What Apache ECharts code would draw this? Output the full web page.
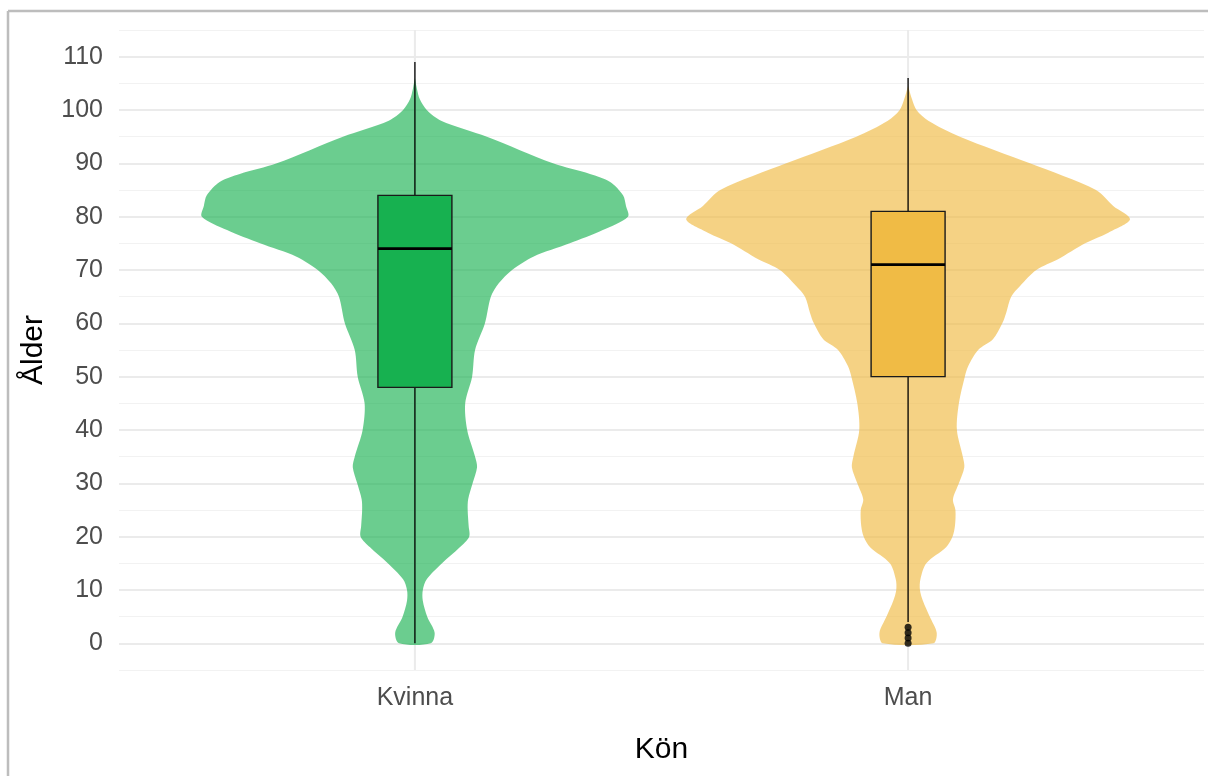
<!DOCTYPE html>
<html><head><meta charset="utf-8">
<script src="https://cdn.jsdelivr.net/npm/echarts@6/dist/echarts.min.js"></script>
<style>html,body{margin:0;padding:0;background:#fff}#c{width:1208px;height:776px}</style>
</head><body><div id="c"></div>
<script>
// ---- data ----
const categories = ['Kvinna', 'Man'];
const yTickLabels = [0, 10, 20, 30, 40, 50, 60, 70, 80, 90, 100, 110];

// violin half-widths (in category units) at given ages
const kvinnaAges   = [0, 2, 5, 8, 10, 12, 15, 18, 20, 22, 25, 27, 30, 33, 35, 40, 45, 50, 55, 60, 65, 67.5, 70, 72.5, 75, 77.5, 80, 82, 84, 86.5, 88, 90, 95, 98, 100, 102, 104, 106];
const kvinnaWidths = [0.032, 0.040, 0.025, 0.016, 0.016, 0.024, 0.055, 0.091, 0.110, 0.109, 0.107, 0.108, 0.117, 0.126, 0.122, 0.106, 0.102, 0.116, 0.122, 0.142, 0.154, 0.170, 0.197, 0.240, 0.314, 0.381, 0.432, 0.428, 0.422, 0.396, 0.355, 0.280, 0.146, 0.053, 0.024, 0.010, 0.004, 0];

const manAges   = [0, 2, 5, 8, 10, 12, 15, 18, 20, 22, 25, 27, 30, 33, 35, 40, 45, 50, 52, 55, 57, 60, 62, 65, 67, 70, 72, 75, 77, 79.5, 82, 85, 90, 95, 98, 100, 102, 104.5];
const manWidths = [0.051, 0.058, 0.044, 0.030, 0.024, 0.025, 0.037, 0.077, 0.090, 0.095, 0.096, 0.091, 0.103, 0.114, 0.111, 0.099, 0.103, 0.115, 0.122, 0.142, 0.172, 0.191, 0.199, 0.209, 0.227, 0.260, 0.304, 0.359, 0.406, 0.450, 0.416, 0.381, 0.247, 0.105, 0.041, 0.017, 0.008, 0];

// box stats: [lower whisker, Q1, median, Q3, upper whisker]
const kvinnaBox = [0, 48, 74, 84, 109];
const manBox    = [4, 50, 71, 81, 106];
const manOutliers = [0, 1, 2, 3];

// ---- style ----
const FONT = 'Liberation Sans, Arial, sans-serif';
const kvinnaColor = '#17B150', kvinnaViolin = 'rgba(23,177,80,0.64)';
const manColor = '#F0BB45', manViolin = 'rgba(240,187,69,0.66)';
const BOX_HALF = 0.075;

function violinSeries(ages, widths, catIdx, fill) {
  return {
    type: 'custom', z: 2, clip: false, silent: true,
    data: [[catIdx, ages[0]]],
    renderItem: function (params, api) {
      const pts = [];
      for (let i = 0; i < ages.length; i++) pts.push(api.coord([catIdx - widths[i], ages[i]]));
      for (let i = ages.length - 1; i >= 0; i--) pts.push(api.coord([catIdx + widths[i], ages[i]]));
      return { type: 'polygon', shape: { points: pts, smooth: 0.3 }, style: { fill: fill, stroke: null } };
    }
  };
}

function boxSeries(stats, catIdx, fill) {
  return {
    type: 'custom', z: 3, clip: false, silent: true,
    data: [[catIdx].concat(stats)],
    renderItem: function (params, api) {
      const c = catIdx;
      const lo = api.coord([c, stats[0]]), q1 = api.coord([c, stats[1]]), md = api.coord([c, stats[2]]),
            q3 = api.coord([c, stats[3]]), hi = api.coord([c, stats[4]]);
      const l = api.coord([c - BOX_HALF, stats[3]]), r = api.coord([c + BOX_HALF, stats[1]]);
      const ls = { stroke: '#000', lineWidth: 1.3 };
      return {
        type: 'group', children: [
          { type: 'line', shape: { x1: lo[0], y1: lo[1], x2: q1[0], y2: q1[1] }, style: ls },
          { type: 'line', shape: { x1: q3[0], y1: q3[1], x2: hi[0], y2: hi[1] }, style: ls },
          { type: 'rect', shape: { x: l[0], y: l[1], width: r[0] - l[0], height: r[1] - l[1] }, style: { fill: fill, stroke: '#1a1a1a', lineWidth: 1.4 } },
          { type: 'line', shape: { x1: l[0], y1: md[1], x2: r[0], y2: md[1] }, style: { stroke: '#000', lineWidth: 2.8 } }
        ]
      };
    }
  };
}

const chart = echarts.init(document.getElementById('c'), null, { renderer: 'canvas' });
chart.setOption({
  animation: false,
  backgroundColor: '#fff',
  textStyle: { fontFamily: FONT },
  grid: { left: 119, right: 4, top: 30, bottom: 106, containLabel: false },
  xAxis: {
    type: 'value', min: 0.4, max: 2.6, interval: 0.2,
    name: 'Kön', nameLocation: 'middle', nameGap: 65,
    nameTextStyle: { fontSize: 30, color: '#000', fontFamily: FONT },
    axisLine: { show: false }, axisTick: { show: false }, splitLine: { show: false },
    axisLabel: {
      margin: 16, fontSize: 25, color: '#4D4D4D', fontFamily: FONT,
      formatter: function (v) {
        const r = Math.round(v);
        return (Math.abs(v - r) < 1e-6 && r >= 1 && r <= categories.length) ? categories[r - 1] : '';
      }
    }
  },
  yAxis: [{
    type: 'value', min: -5, max: 115, interval: 5,
    name: 'Ålder', nameLocation: 'middle', nameGap: 70,
    nameTextStyle: { fontSize: 30, color: '#000', fontFamily: FONT, padding: [0, 0, 0, 0] },
    axisLine: { show: false }, axisTick: { show: false },
    splitLine: { show: true, lineStyle: { color: ['rgba(0,0,0,0)', '#EBEBEB'], width: 2 } },
    axisLabel: {
      margin: 16, fontSize: 25, color: '#4D4D4D', fontFamily: FONT,
      formatter: function (v) { return yTickLabels.indexOf(Math.round(v)) >= 0 && Math.abs(v - Math.round(v)) < 1e-6 ? String(Math.round(v)) : ''; }
    }
  }, {
    type: 'value', min: -5, max: 115, interval: 5, position: 'left',
    axisLine: { show: false }, axisTick: { show: false }, axisLabel: { show: false },
    splitLine: { show: true, lineStyle: { color: ['#F2F2F2', 'rgba(0,0,0,0)'], width: 1.2 } }
  }],
  graphic: [
    { type: 'line', shape: { x1: 8, y1: 11, x2: 1208, y2: 11 }, style: { stroke: '#BDBDBD', lineWidth: 2.5 }, z: 10 },
    { type: 'line', shape: { x1: 8, y1: 11, x2: 8, y2: 776 }, style: { stroke: '#BDBDBD', lineWidth: 2.5 }, z: 10 }
  ],
  series: [
    {
      type: 'custom', z: 1, clip: false, silent: true,
      data: categories.map(function (_, i) { return [i + 1, -5]; }),
      renderItem: function (params, api) {
        const x = api.value(0);
        const a = api.coord([x, -5]), b = api.coord([x, 115]);
        return { type: 'line', shape: { x1: a[0], y1: a[1], x2: b[0], y2: b[1] }, style: { stroke: '#EBEBEB', lineWidth: 2 } };
      }
    },
    violinSeries(kvinnaAges, kvinnaWidths, 1, kvinnaViolin),
    violinSeries(manAges, manWidths, 2, manViolin),
    boxSeries(kvinnaBox, 1, kvinnaColor),
    boxSeries(manBox, 2, manColor),
    {
      type: 'scatter', z: 4, silent: true, symbol: 'circle', symbolSize: 7,
      itemStyle: { color: '#000' },
      data: manOutliers.map(function (v) { return [2, v]; })
    }
  ]
});
</script></body></html>
